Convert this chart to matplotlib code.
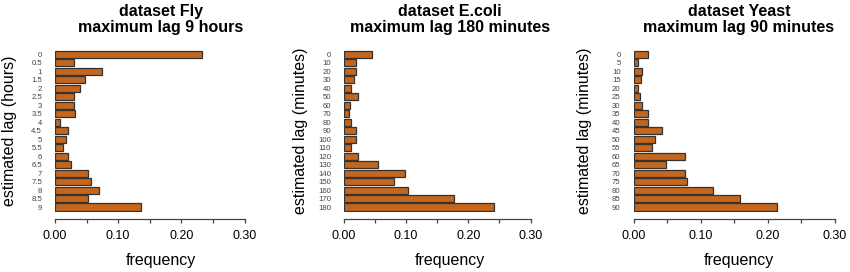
import matplotlib
matplotlib.use("Agg")
from matplotlib import pyplot as plt

plt.rcParams['font.family'] = ['Liberation Sans', 'DejaVu Sans']

# lag categories (bar labels)
fly_lags = ["0", "0.5", "1", "1.5", "2", "2.5", "3", "3.5", "4", "4.5", "5",
            "5.5", "6", "6.5", "7", "7.5", "8", "8.5", "9"]
ecoli_lags = [str(v) for v in range(0, 181, 10)]
yeast_lags = [str(v) for v in range(0, 91, 5)]

# frequencies
fly_freq = [0.233, 0.030, 0.074, 0.048, 0.039, 0.030, 0.030, 0.031, 0.008, 0.021,
            0.017, 0.013, 0.021, 0.026, 0.052, 0.057, 0.070, 0.052, 0.136]
ecoli_freq = [0.045, 0.019, 0.020, 0.016, 0.012, 0.022, 0.009, 0.008, 0.012, 0.020,
              0.019, 0.012, 0.023, 0.054, 0.098, 0.080, 0.103, 0.177, 0.241]
yeast_freq = [0.021, 0.006, 0.012, 0.011, 0.007, 0.010, 0.012, 0.021, 0.022, 0.043,
              0.032, 0.027, 0.076, 0.048, 0.076, 0.079, 0.118, 0.159, 0.213]

x_ticks = [0.0, 0.1, 0.2, 0.3]
x_minor = [0.05, 0.15, 0.25]
x_ticklabels = ["0.00", "0.10", "0.20", "0.30"]

titles = ["dataset Fly\nmaximum lag 9 hours",
          "dataset E.coli\nmaximum lag 180 minutes",
          "dataset Yeast\nmaximum lag 90 minutes"]
ylabels = ["estimated lag (hours)", "estimated lag (minutes)", "estimated lag (minutes)"]

W, H = 850, 272
fig = plt.figure(figsize=(W / 100, H / 100), dpi=100)

# pixel layout: (axis left, axis right, title/xlabel centre, ylabel x)
panels = [(55, 244.5, 161, 10), (344, 530.5, 450, 300), (633.5, 835, 739, 585)]
top_px, bot_px = 49.2, 212.1

data = [(fly_lags, fly_freq), (ecoli_lags, ecoli_freq), (yeast_lags, yeast_freq)]
bar_color = "#C4661D"

for i, (lags, freq) in enumerate(data):
    left, right, cx, ylx = panels[i]
    ax = fig.add_axes([left / W, 1 - bot_px / H, (right - left) / W, (bot_px - top_px) / H])
    ax.barh(range(len(lags)), freq, height=0.833, color=bar_color,
            edgecolor="#333333", linewidth=0.9)
    ax.set_xlim(0, 0.3)
    ax.set_ylim(len(lags) - 0.4, -0.6)
    ax.set_yticks(range(len(lags)))
    ax.set_yticklabels(lags, fontsize=5.6, color="#444444")
    ax.tick_params(axis="y", length=0, pad=9.3)
    ax.set_xticks(x_ticks)
    ax.set_xticks(x_minor, minor=True)
    ax.set_xticklabels(x_ticklabels)
    ax.tick_params(axis="x", which="both", direction="out", length=3.2, width=0.9,
                   color="#444444", labelsize=9, pad=5)
    for s in ["top", "right", "left"]:
        ax.spines[s].set_visible(False)
    ax.spines["bottom"].set_position(("outward", 5))
    ax.spines["bottom"].set_linewidth(0.9)
    ax.spines["bottom"].set_color("#444444")

    fig.text(cx / W, 1 - 19.5 / H, titles[i], ha="center", va="center",
             fontsize=11.5, fontweight="bold", linespacing=1.15)
    fig.text(cx / W, 1 - 260 / H, "frequency", ha="center", va="center", fontsize=11.5)
    fig.text(ylx / W, 1 - 131 / H, ylabels[i], ha="center", va="center",
             rotation=90, fontsize=11.5)

fig.savefig("out.png", dpi=100)
